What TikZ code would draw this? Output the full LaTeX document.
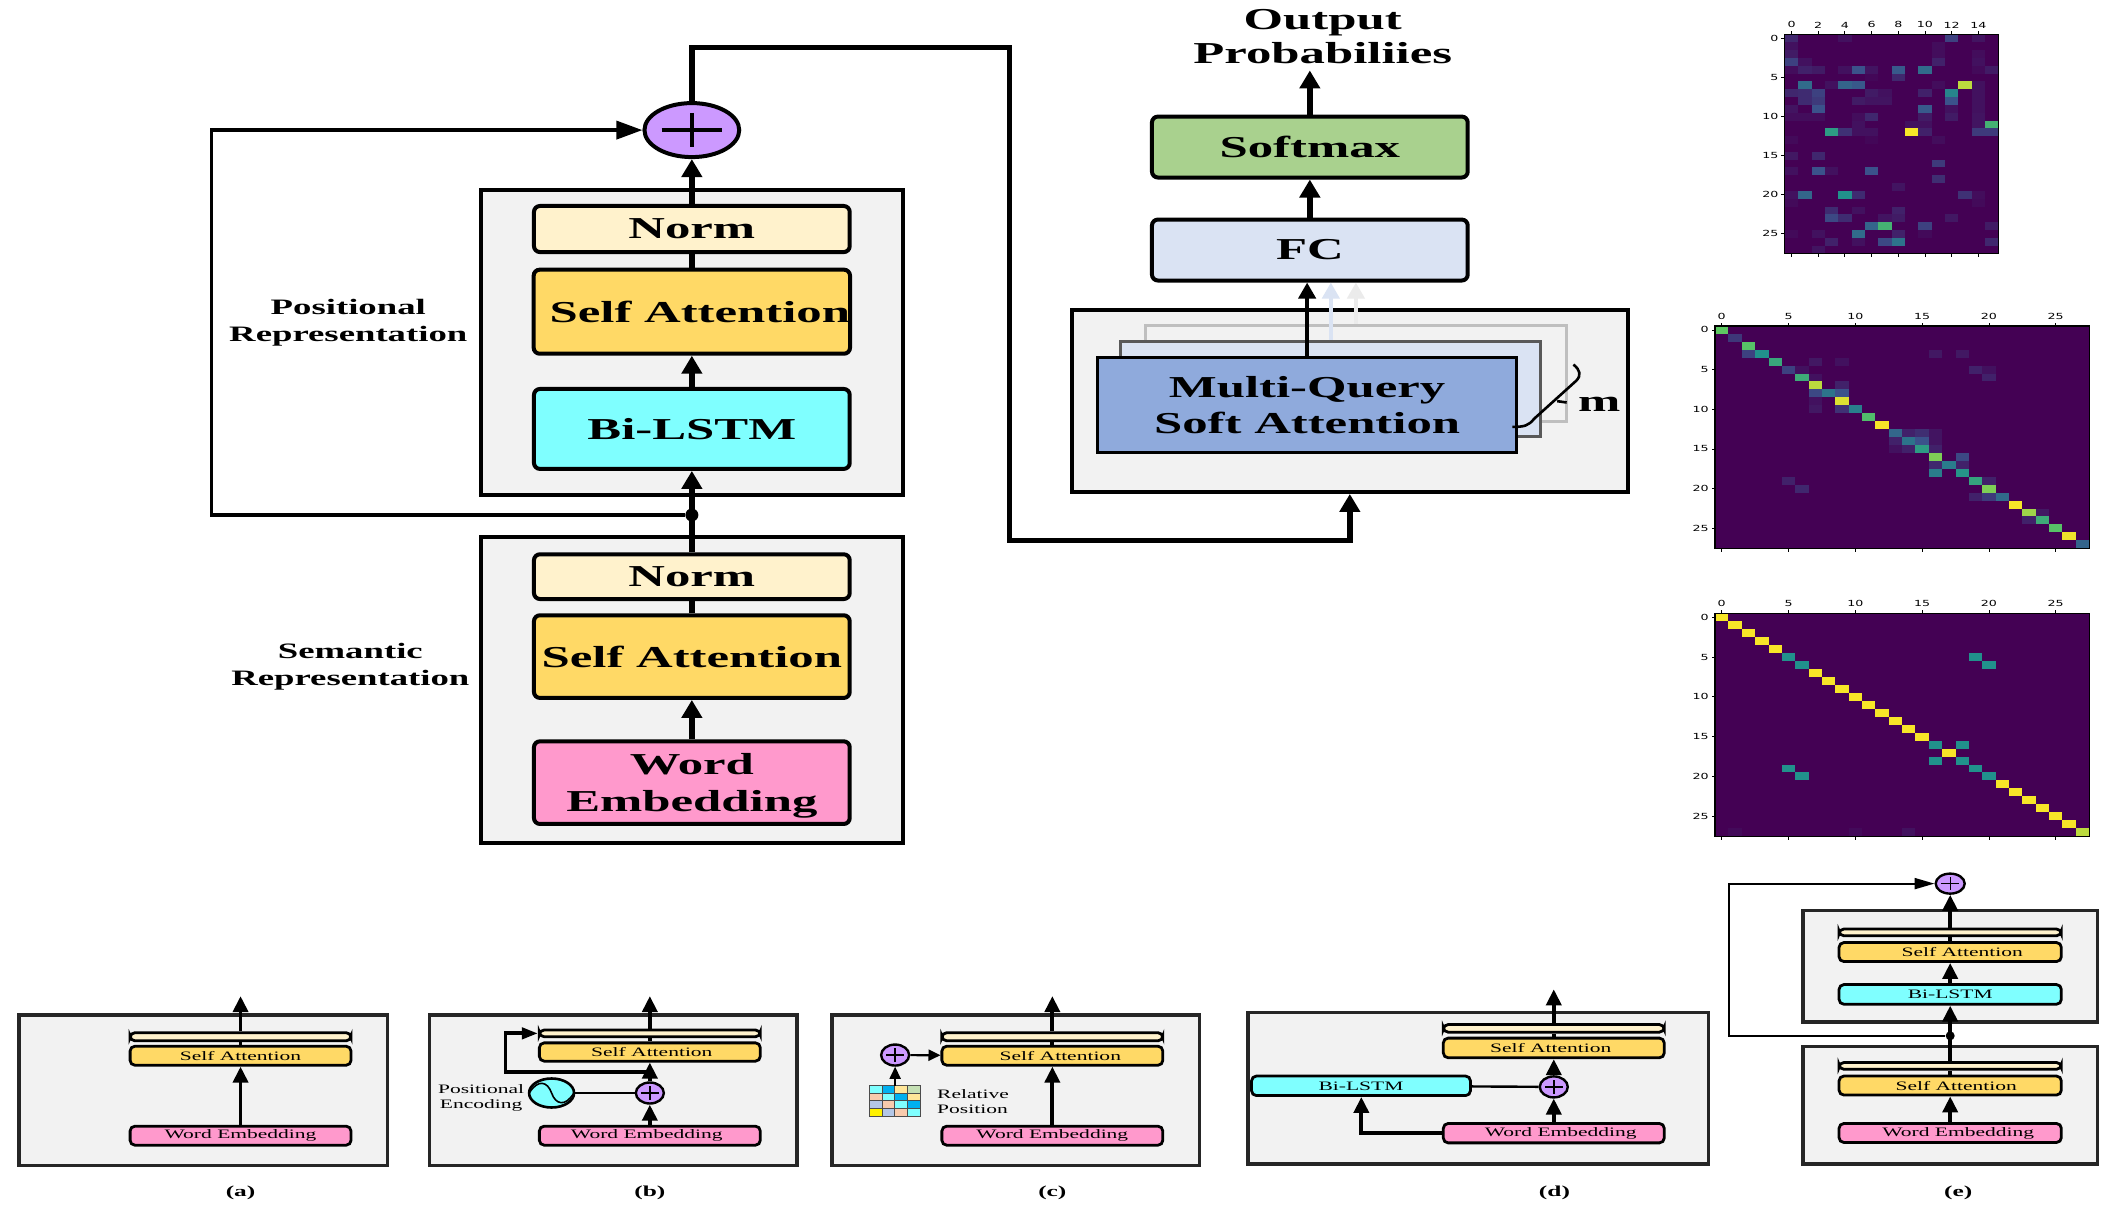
\documentclass[tikz,border=0pt]{standalone}
\usepackage{fontspec}
\usetikzlibrary{arrows.meta,calc,shapes.geometric}
\newfontfamily\fB[FakeStretch=1.67]{Liberation Serif}
\newfontfamily\fD[FakeStretch=1.5]{DejaVu Sans}
\newcommand\tL{\fB\bfseries\fontsize{15.2}{18.3}\selectfont}
\newcommand\tM{\fB\bfseries\fontsize{11}{13.2}\selectfont}
\newcommand\tS{\fB\fontsize{6.44}{7.5}\selectfont}
\newcommand\tC{\fB\bfseries\fontsize{7.6}{9}\selectfont}
\newcommand\tT{\fD\fontsize{4.2}{5}\selectfont}
\definecolor{vir0}{HTML}{440154}
\definecolor{vir1}{HTML}{3B528B}
\definecolor{vir2}{HTML}{21918C}
\definecolor{vir3}{HTML}{5EC962}
\definecolor{vir4}{HTML}{FDE725}
\definecolor{cPanel}{HTML}{F2F2F2}
\definecolor{cNorm}{HTML}{FFF2CC}
\definecolor{cSA}{HTML}{FFD966}
\definecolor{cLSTM}{HTML}{7FFFFF}
\definecolor{cWE}{HTML}{FF99CC}
\definecolor{cPlus}{HTML}{CC99FF}
\definecolor{cSoft}{HTML}{A9D18E}
\definecolor{cFC}{HTML}{DAE3F3}
\definecolor{cMQ}{HTML}{8FAADC}
\definecolor{cBlue}{HTML}{00B0F0}
\definecolor{cGreenL}{HTML}{C5E0B4}
\definecolor{cSalm}{HTML}{F8CBAD}
\definecolor{cBlueL}{HTML}{B4C7E7}
\definecolor{cYelL}{HTML}{FFE699}
\newcommand\vircol[1]{%
  \pgfmathtruncatemacro\vi{min(3,int(#1*4))}%
  \pgfmathtruncatemacro\vj{\vi+1}%
  \pgfmathtruncatemacro\vt{(#1*4-\vi)*100}%
  \colorlet{vc}{vir\vj!\vt!vir\vi}}
% name style x1 y1 x2 y2 text
\newcommand\bx[7]{%
  \pgfmathsetmacro\bw{(#5-#3)*0.6776}%
  \pgfmathsetmacro\bh{(#6-#4)*0.6776}%
  \node[#2,minimum width=\bw pt,minimum height=\bh pt,inner sep=0pt,align=center] (#1) at ({(#3+#5)/2},{(#4+#6)/2}) {#7};}
% x0 y0 x1 y1 ncols nrows cells
\newcommand\hmap[7]{%
  \fill[vir0] (#1,#2) rectangle (#3,#4);
  \pgfmathsetmacro\cw{(#3-#1)/#5}%
  \pgfmathsetmacro\ch{(#4-#2)/#6}%
  \foreach \r/\c/\v in {#7}{\vircol{\v}\fill[vc] ({#1+\c*\cw},{#2+\r*\ch}) rectangle ++(\cw,\ch);}
  \draw[black,line width=.6pt] (#1,#2) rectangle (#3,#4);}
% prefix x0 y0 x1 y1 ncols nrows toplist leftlist
\newcommand\hticks[9]{%
  \pgfmathsetmacro\cw{(#4-#2)/#6}%
  \pgfmathsetmacro\ch{(#5-#3)/#7}%
  \foreach \k in {#8}{%
    \draw[line width=.4pt] ({#2+(\k+.5)*\cw},#3) -- ++(0,-2.5);
    \draw[line width=.4pt] ({#2+(\k+.5)*\cw},#5) -- ++(0,2.5);
    \node[inner sep=0pt,anchor=south] (#1t\k) at ({#2+(\k+.5)*\cw},{#3-4.5}) {\tT\k};}
  \foreach \k in {#9}{%
    \draw[line width=.4pt] (#2,{#3+(\k+.5)*\ch}) -- ++(-2.5,0);
    \node[inner sep=0pt,anchor=east] (#1l\k) at ({#2-4.5},{#3+(\k+.5)*\ch}) {\tT\k};}}
\tikzset{
  x=0.6776pt,y=-0.6776pt,
  panel/.style={draw=black,fill=cPanel,line width=2pt},
  spanel/.style={draw=black!85,fill=cPanel,line width=1.7pt},
  mbox/.style={draw=black,line width=2pt,rounded corners=3pt},
  sbox/.style={draw=black,line width=1.4pt,rounded corners=2.4pt},
  lay/.style={draw=black,line width=1.6pt},
  plain/.style={inner sep=0pt,align=center},
  thick line/.style={line width=2.7pt},
  thin line/.style={line width=1.8pt},
  small line/.style={line width=1.9pt},
  big arrow/.style={-{Triangle[width=10pt,length=9pt]},line width=2.7pt},
  mid arrow/.style={-{Triangle[width=8.5pt,length=8pt]},line width=2.2pt},
  sm arrow/.style={-{Triangle[width=7.5pt,length=8pt]},line width=1.9pt},
  plusn/.style args={#1 and #2 and #3}{ellipse,draw=black,fill=cPlus,line width=#3,inner sep=0pt,
    minimum width=#1,minimum height=#2,
    path picture={
      \draw[line width=.35*#2/5,black]
        ($(path picture bounding box.west)!.18!(path picture bounding box.east)$) --
        ($(path picture bounding box.west)!.82!(path picture bounding box.east)$)
        ($(path picture bounding box.north)!.18!(path picture bounding box.south)$) --
        ($(path picture bounding box.north)!.82!(path picture bounding box.south)$);}},
  dotn/.style={circle,fill=black,inner sep=0pt,minimum size=#1},
}
\begin{document}
\begin{tikzpicture}
\useasboundingbox (0,0) rectangle (1568,890.6);
\fill[white] (0,0) rectangle (1568,890.6);

% ---- main left column
\bx{upp}{panel}{355}{140}{666}{365}{}
\bx{low}{panel}{355}{396}{666}{622}{}
\bx{nU}{mbox,fill=cNorm}{394}{152}{627}{186}{\tL Norm}
\bx{saU}{mbox,fill=cSA}{394}{199}{627}{261}{\tL\hspace*{8pt}Self Attention}
\bx{ls}{mbox,fill=cLSTM}{394}{287}{627}{346}{\tL Bi-LSTM}
\bx{nL}{mbox,fill=cNorm}{394}{409}{627}{442}{\tL Norm}
\bx{saL}{mbox,fill=cSA}{394}{454}{627}{515}{\tL Self Attention}
\bx{we}{mbox,fill=cWE}{394}{547}{627}{608}{\tL\rule{0pt}{14pt}Word\\[6.3pt]\tL Embedding}
\node[plusn={47.4pt and 27pt and 2pt}] (plus) at (510.5,96) {};
\node[plain] (lp) at (257,238) {\tM Positional\\[1.2pt]\tM Representation};
\node[plain] (ls2) at (258.5,492) {\tM Semantic\\[1.2pt]\tM Representation};
\node[dotn=6.5pt] (j) at (510.5,380) {};
\coordinate (f1) at (156,380);
\coordinate (t1) at (745,35);
\coordinate (t2) at (745,399);

\draw[big arrow] (we) -- (saL);
\draw[thick line] (saL) -- (nL);
\draw[big arrow] (nL) -- (ls);
\draw[big arrow] (ls) -- (saU);
\draw[thick line] (saU) -- (nU);
\draw[big arrow] (nU) -- (plus);
\draw[thin line,-{Triangle[width=9pt,length=13pt]}] (j) -- (f1) |- (plus.west);

% ---- right column
\bx{outer}{panel}{791}{229}{1201}{363}{}
\bx{back}{draw=black!25,fill=cPanel,line width=1.5pt}{845}{240}{1156}{311}{}
\bx{midl}{draw=black!65,fill=cFC,line width=1.5pt}{827}{252}{1137}{322}{}
\bx{mq}{lay,fill=cMQ}{810}{264}{1119}{334}{\tL Multi-Query\\[3pt]\tL Soft Attention}
\bx{soft}{mbox,fill=cSoft}{850}{86}{1083}{131}{\tL Softmax}
\bx{fc}{mbox,fill=cFC}{850}{162}{1083}{207}{\tL FC}
\node[plain] (outp) at (976,27) {\tL Output\\[2.6pt]\tL Probabiliies};
\node[plain] (mlab) at (1180,298) {\tL m};
\coordinate (outT) at (966.5,52);

\draw[big arrow,line cap=butt] (plus.north) |- (t1) -- (t2) -| (outer.south);
\draw[big arrow] (soft) -- (outT);
\draw[big arrow] (fc) -- (soft);
\draw[mid arrow] (mq.north) -- (mq.north |- fc.south);
\draw[mid arrow,cFC] (midl.north) -- (midl.north |- fc.south);
\draw[mid arrow,black!8] (back.north) -- (back.north |- fc.south);
\draw[line width=1.3pt] (1116,315) .. controls (1125,315) and (1128,314) .. (1132,309) -- (1163,281) .. controls (1167,277) and (1166,273) .. (1161,269);
\draw[line width=1.3pt] (1149,296) -- (1156,297);

% ---- heatmaps
\hmap{1317}{25.5}{1474.5}{187}{16}{28}{0/0/.12,0/4/.05,0/12/.2,0/14/.06,1/0/.05,1/11/.04,2/0/.08,2/11/.04,2/14/.04,3/0/.2,3/1/.05,3/11/.1,3/14/.05,4/0/.04,4/1/.1,4/2/.08,4/4/.05,4/5/.25,4/6/.06,4/8/.28,4/10/.35,4/14/.03,4/15/.08,5/8/.12,5/6/.02,6/1/.35,6/3/.05,6/4/.32,6/5/.28,6/11/.04,6/13/.9,6/14/.05,7/0/.12,7/1/.13,7/2/.2,7/6/.08,7/7/.05,7/10/.1,7/12/.45,7/14/.05,8/1/.13,8/2/.18,8/5/.08,8/6/.06,8/7/.06,8/12/.25,8/14/.05,9/0/.06,9/2/.25,9/10/.28,9/12/.05,9/14/.05,10/0/.04,10/1/.04,10/2/.04,10/5/.04,10/6/.12,10/10/.08,10/12/.08,10/14/.06,11/5/.05,11/9/.05,11/10/.05,11/14/.06,11/15/.65,12/3/.55,12/4/.15,12/5/.05,12/6/.05,12/9/.99,12/10/.1,12/14/.18,12/15/.18,13/0/.03,13/6/.02,13/11/.04,15/0/.07,15/2/.12,16/11/.18,17/0/.05,17/2/.25,17/3/.05,17/6/.25,18/11/.14,19/8/.06,20/0/.05,20/1/.33,20/4/.5,20/5/.13,20/13/.15,20/14/.04,21/0/.03,21/14/.03,22/3/.13,22/5/.05,22/8/.1,23/3/.22,23/4/.13,23/7/.06,23/8/.08,23/12/.07,24/6/.32,24/7/.65,24/10/.2,24/15/.08,25/0/.03,25/2/.05,25/5/.35,25/8/.1,25/10/.03,26/3/.1,26/5/.05,26/7/.22,26/8/.38,26/15/.12,27/2/.06}
\hticks{hA}{1317}{25.5}{1474.5}{187}{16}{28}{0,2,4,6,8,10,12,14}{0,5,10,15,20,25}

\hmap{1265.5}{240.5}{1541.5}{404.5}{28}{28}{0/0/.75,1/1/.17,2/2/.72,3/2/.2,3/3/.5,4/4/.6,5/5/.2,5/6/.05,6/6/.62,6/7/.05,7/7/.9,8/7/.22,8/8/.38,8/9/.25,7/9/.1,9/9/.95,10/10/.43,9/7/.05,10/7/.07,10/9/.15,11/11/.7,12/12/.99,13/13/.33,13/14/.1,13/15/.14,13/16/.06,14/13/.1,14/14/.38,14/15/.25,14/16/.06,15/13/.05,15/14/.1,15/15/.55,15/16/.1,16/16/.8,16/18/.22,17/16/.12,17/17/.42,17/18/.1,18/16/.42,18/18/.52,19/19/.58,19/20/.1,19/5/.1,20/20/.8,20/6/.12,21/19/.1,21/20/.18,21/21/.35,22/22/.99,23/23/.85,23/24/.07,24/23/.1,24/24/.62,25/25/.72,26/26/.98,27/27/.32,3/16/.07,3/18/.07,4/7/.07,4/9/.05,5/19/.1,5/20/.05,6/20/.1}
\hticks{hB}{1265.5}{240.5}{1541.5}{404.5}{28}{28}{0,5,10,15,20,25}{0,5,10,15,20,25}

\hmap{1265.5}{452.5}{1541.5}{617}{28}{28}{0/0/.99,1/1/.99,2/2/.99,3/3/.99,4/4/.99,5/5/.5,6/6/.5,7/7/.99,8/8/.99,9/9/.99,10/10/.99,11/11/.99,12/12/.99,13/13/.99,14/14/.99,15/15/.99,16/16/.5,17/17/.99,18/18/.5,19/19/.5,20/20/.5,21/21/.99,22/22/.99,23/23/.99,24/24/.99,25/25/.99,26/26/.99,27/27/.9,5/19/.5,6/20/.5,16/18/.5,18/16/.5,19/5/.5,20/6/.5,27/1/.03,27/10/.03,27/14/.05}
\hticks{hC}{1265.5}{452.5}{1541.5}{617}{28}{28}{0,5,10,15,20,25}{0,5,10,15,20,25}

% ---- panel (a)
\bx{aP}{spanel}{14}{749}{286}{860}{}
\bx{aN}{sbox,fill=cNorm}{96}{762}{259}{768}{}
\bx{aS}{sbox,fill=cSA}{96}{772}{259}{786}{\tS Self Attention}
\bx{aW}{sbox,fill=cWE}{96}{831}{259}{845}{\tS Word Embedding}
\coordinate (aT) at (177.5,735);
\draw[sm arrow] (aW) -- (aS);
\draw[small line] (aS) -- (aN);
\draw[sm arrow] (aN) -- (aT);
\node[plain] (aC) at (177.5,880) {\tC (a)};

% ---- panel (b)
\bx{bP}{spanel}{317}{749}{588}{860}{}
\bx{bN}{sbox,fill=cNorm}{398}{760}{561}{765}{}
\bx{bS}{sbox,fill=cSA}{398}{769.5}{561}{783}{\tS\hspace*{2pt}Self Attention}
\bx{bW}{sbox,fill=cWE}{398}{831}{561}{845}{\tS\hspace*{-3pt}Word Embedding}
\node[plusn={14pt and 10.5pt and 1.2pt}] (bPl) at (479.5,806.5) {};
\node[ellipse,draw=black,fill=cLSTM,line width=1.3pt,minimum width=22.5pt,minimum height=14.5pt,inner sep=0pt] (bSin) at (407,806.5) {};
\draw[line width=.8pt] (390.5,806.5) .. controls (397,796) and (404,798) .. (407,806.5) .. controls (410,815) and (417,817) .. (423.5,806.5);
\node[plain] (bL) at (355,810) {\tS Positional\\[-4.5pt]\tS Encoding};
\coordinate (bT) at (479.5,735);
\coordinate (bB1) at (373,791);
\draw[sm arrow] (bW) -- (bPl);
\draw[sm arrow] (bPl) -- (bS);
\draw[line width=1.2pt] (bSin) -- (bPl);
\draw[small line] (bS) -- (bN);
\draw[sm arrow] (bN) -- (bT);
\draw[sm arrow,-{Triangle[width=5.5pt,length=8pt]}] (bPl.north |- bB1) -- (bB1) |- (bN.west);

% ---- panel (c)
\bx{cP}{spanel}{614}{749}{885}{860}{}
\bx{cN}{sbox,fill=cNorm}{695}{762}{858}{768}{}
\bx{cS}{sbox,fill=cSA}{695}{772}{858}{786}{\tS\hspace*{8pt}Self Attention}
\bx{cW}{sbox,fill=cWE}{695}{831}{858}{845}{\tS Word Embedding}
\node[plusn={14pt and 10.5pt and 1.2pt}] (cPl) at (660.5,778.5) {};
\coordinate (cT) at (776.5,735);
\foreach \rr/\cc/\col in {0/0/cLSTM,0/1/cBlue,0/2/cYelL,0/3/cGreenL,
  1/0/cSalm,1/1/cLSTM,1/2/cBlue,1/3/cYelL,
  2/0/cBlueL,2/1/cSalm,2/2/cLSTM,2/3/cBlue,
  3/0/yellow,3/1/cBlueL,3/2/cSalm,3/3/cLSTM}{
  \filldraw[fill=\col,draw=black!70,line width=.25pt] ({641.5+\cc*9.3},{801+\rr*5.6}) rectangle ++(9.3,5.6);}
\coordinate (cG) at (660.5,801);
\draw[-{Triangle[width=5.5pt,length=6pt]},line width=.9pt] (cG) -- (cPl);
\draw[-{Triangle[width=5.5pt,length=6pt]},line width=1.1pt] (cPl) -- (cS);
\node[plain,align=left] (cL) at (718,813) {\tS Relative\\[-4.5pt]\tS Position};
\draw[sm arrow] (cW) -- (cS);
\draw[small line] (cS) -- (cN);
\draw[sm arrow] (cN) -- (cT);
\node[plain] (cC) at (776.5,880) {\tC (c)};
\node[plain] (bC) at (479.5,880) {\tC (b)};

% ---- panel (d)
\bx{dP}{spanel}{921}{747}{1260.5}{859}{}
\bx{dN}{sbox,fill=cNorm}{1065}{756}{1228}{761.6}{}
\bx{dS}{sbox,fill=cSA}{1065}{766}{1228}{780.5}{\tS\hspace*{-3pt}Self Attention}
\bx{dW}{sbox,fill=cWE}{1065}{829}{1228}{843.3}{\tS\hspace*{7pt}Word Embedding}
\bx{dL}{sbox,fill=cLSTM}{923.5}{794}{1085}{808.4}{\tS Bi-LSTM}
\node[plusn={14pt and 10.5pt and 1.2pt}] (dPl) at (1146.5,802) {};
\coordinate (dT) at (1146.5,730);
\coordinate (dB) at (1004.5,836);
\draw[sm arrow] (dW) -- (dPl);
\draw[sm arrow] (dPl) -- (dS);
\draw[line width=1.2pt] (dL) -- (dPl);
\draw[small line] (dS) -- (dN);
\draw[sm arrow] (dN) -- (dT);
\draw[sm arrow] (dW.west |- dB) -- (dB) -- (dB |- dL.south);
\node[plain] (dC) at (1147,880) {\tC (d)};

% ---- panel (e)
\bx{eU}{spanel}{1330.5}{672}{1547.5}{754}{}
\bx{eD}{spanel}{1330.5}{772}{1547.5}{859}{}
\bx{eN1}{sbox,fill=cNorm}{1357}{685.5}{1521}{690.5}{}
\bx{eS1}{sbox,fill=cSA}{1357}{695.5}{1521}{709.5}{\tS\hspace*{12pt}Self Attention}
\bx{eL}{sbox,fill=cLSTM}{1357}{726.5}{1521}{741}{\tS Bi-LSTM}
\bx{eN2}{sbox,fill=cNorm}{1357}{784}{1521}{789}{}
\bx{eS2}{sbox,fill=cSA}{1357}{794}{1521}{808}{\tS\hspace*{6pt}Self Attention}
\bx{eW}{sbox,fill=cWE}{1357}{829}{1521}{843}{\tS\hspace*{8pt}Word Embedding}
\node[plusn={14.5pt and 10pt and 1.2pt}] (ePl) at (1439,652) {};
\node[dotn=4.5pt] (eJ) at (1439,764.3) {};
\coordinate (eF) at (1275.5,764.3);
\draw[sm arrow] (eW) -- (eS2);
\draw[small line] (eS2) -- (eN2);
\draw[sm arrow] (eN2) -- (eL);
\draw[sm arrow] (eL) -- (eS1);
\draw[small line] (eS1) -- (eN1);
\draw[sm arrow] (eN1) -- (ePl);
\draw[line width=1.1pt,-{Triangle[width=5.5pt,length=10pt]}] (eJ) -- (eF) |- (ePl.west);
\node[plain] (eC) at (1445,880) {\tC (e)};
\end{tikzpicture}
\end{document}
